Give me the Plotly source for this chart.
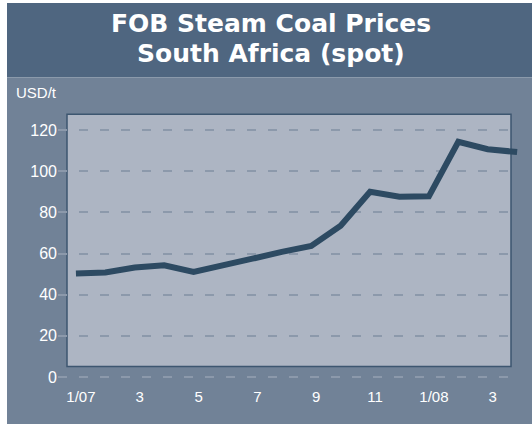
import plotly.graph_objects as go

# Data
months = ["Jan 07", "Feb 07", "Mar 07", "Apr 07", "May 07", "Jun 07", "Jul 07", "Aug 07",
          "Sep 07", "Oct 07", "Nov 07", "Dec 07", "Jan 08", "Feb 08", "Mar 08", "Apr 08"]
prices = [50.3, 50.8, 53.2, 54.3, 51.0, 54.0, 57.5, 60.8,
          63.7, 73.5, 90.0, 87.6, 87.8, 114.3, 110.7, 109.3]
tick_months = months[::2]
tick_labels = ["1/07", "3", "5", "7", "9", "11", "1/08", "3"]
y_ticks = [0, 20, 40, 60, 80, 100, 120]

title_line1 = "FOB Steam Coal Prices"
title_line2 = "South Africa (spot)"
unit_label = "USD/t"

W, H = 532, 424
L, R, T, B = 58, 14, 114, 44
pw, ph = W - L - R, H - T - B


def px_x(p):
    return (p - L) / pw


def px_y(p):
    return (H - B - p) / ph


TITLE_BG = "#4f6680"
LOWER_BG = "#718297"
PLOT_BG = "#adb5c3"
LINE_C = "#2d4a62"
GRID_C = "#8c99ab"

fig = go.Figure()
fig.add_trace(go.Scatter(
    x=months, y=prices, mode="lines",
    line=dict(color=LINE_C, width=6),
    hoverinfo="skip", showlegend=False,
))

shapes = [
    dict(type="rect", xref="paper", yref="paper", layer="below",
         x0=px_x(7), x1=px_x(W + 2), y0=px_y(3), y1=px_y(77.5),
         fillcolor=TITLE_BG, line=dict(width=0)),
    dict(type="rect", xref="paper", yref="paper", layer="below",
         x0=px_x(7), x1=px_x(W + 2), y0=px_y(77.5), y1=px_y(H + 2),
         fillcolor=LOWER_BG, line=dict(width=0)),
    dict(type="rect", xref="paper", yref="paper", layer="below",
         x0=px_x(67), x1=px_x(511), y0=px_y(366.5), y1=px_y(114.3),
         fillcolor=PLOT_BG, line=dict(color="#3d5670", width=1.5)),
]

annotations = [
    dict(text=title_line1, xref="paper", yref="paper", x=px_x(271), y=px_y(23.5),
         xanchor="center", yanchor="middle", showarrow=False,
         font=dict(family="DejaVu Sans", size=25, color="white", weight="bold")),
    dict(text=title_line2, xref="paper", yref="paper", x=px_x(271), y=px_y(54),
         xanchor="center", yanchor="middle", showarrow=False,
         font=dict(family="DejaVu Sans", size=25, color="white", weight="bold")),
    dict(text=unit_label, xref="paper", yref="paper", x=px_x(14), y=px_y(92),
         xanchor="left", yanchor="middle", showarrow=False,
         font=dict(family="Liberation Sans", size=15, color="white")),
]

fig.update_layout(
    width=W, height=H,
    margin=dict(l=L, r=R, t=T, b=B, pad=0),
    paper_bgcolor="white",
    plot_bgcolor="rgba(0,0,0,0)",
    shapes=shapes,
    annotations=annotations,
    font=dict(family="Liberation Sans", color="white", size=15),
    xaxis=dict(
        type="category",
        categoryorder="array", categoryarray=months,
        range=[-0.61, 15.03],
        tickmode="array", tickvals=tick_months, ticktext=tick_labels,
        showgrid=False, zeroline=False, showline=False, ticks="",
        ticklabelshift=5, ticklabelstandoff=6,
        tickfont=dict(size=15, color="white"),
        fixedrange=True,
    ),
    yaxis=dict(
        range=[-1.46, 127.8],
        tickmode="array", tickvals=y_ticks,
        showgrid=True, gridcolor=GRID_C, gridwidth=1.5, griddash="9px,12px",
        zeroline=False, showline=False, ticks="",
        tickfont=dict(size=16, color="white"),
        fixedrange=True,
    ),
)

fig.write_html("out.html", config={"displayModeBar": False},
               post_script="document.body.style.margin='0';")
